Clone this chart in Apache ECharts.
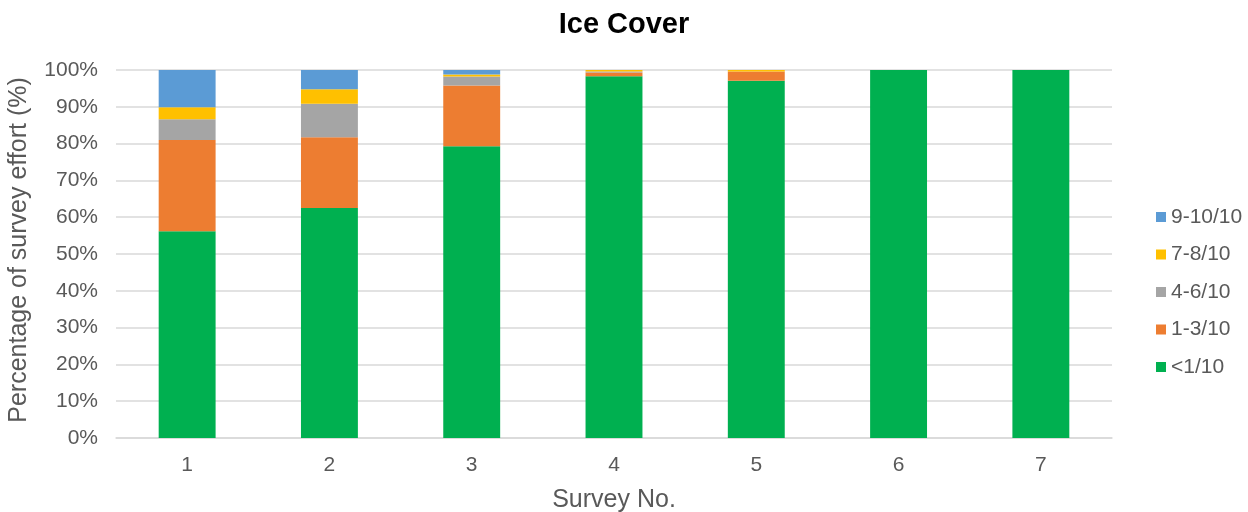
<!DOCTYPE html>
<html>
<head>
<meta charset="utf-8">
<script src="https://cdn.jsdelivr.net/npm/echarts@6/dist/echarts.min.js"></script>
<style>
  html, body { margin: 0; padding: 0; background: #fff; }
  #chart { width: 1248px; height: 512px; }
</style>
</head>
<body>
<div id="chart"></div>
<script>
// Survey numbers along the x axis
const surveys = ['1', '2', '3', '4', '5', '6', '7'];

// Share of survey effort (%) in each ice-cover class
const lt1 = [56.2, 62.5, 79.3, 98.3, 97.1, 100, 100];
const c1to3 = [24.8, 19.2, 16.5, 1.0, 2.5, 0, 0];
const c4to6 = [5.6, 9.1, 2.4, 0.3, 0, 0, 0];
const c7to8 = [3.3, 4.0, 0.6, 0.4, 0.4, 0, 0];
const c9to10 = [10.1, 5.2, 1.2, 0, 0, 0, 0];

const seriesNames = ['<1/10', '1-3/10', '4-6/10', '7-8/10', '9-10/10'];
const seriesData = [lt1, c1to3, c4to6, c7to8, c9to10];
const seriesColors = ['#00B050', '#ED7D31', '#A5A5A5', '#FFC000', '#5B9BD5'];

const font = 'Liberation Sans, Arial, sans-serif';
const chart = echarts.init(document.getElementById('chart'));

chart.setOption({
  animation: false,
  title: {
    text: 'Ice Cover',
    left: 'center',
    top: 5,
    textStyle: { fontFamily: font, fontSize: 29, fontWeight: 'bold', color: '#000' }
  },
  legend: {
    orient: 'vertical',
    left: 1151,
    top: 201,
    itemWidth: 10,
    itemHeight: 10,
    itemGap: 15.5,
    icon: 'rect',
    data: seriesNames.slice().reverse(),
    textStyle: { fontFamily: font, fontSize: 21, lineHeight: 22, color: '#595959' }
  },
  grid: { left: 116, right: 136, top: 70, bottom: 74, outerBoundsMode: 'none', containLabel: false },
  xAxis: {
    type: 'category',
    data: surveys,
    name: 'Survey No.',
    nameLocation: 'middle',
    nameGap: 50,
    nameTextStyle: { fontFamily: font, fontSize: 25, color: '#595959' },
    axisLine: { lineStyle: { color: '#D9D9D9', width: 1.5 } },
    axisTick: { show: false },
    axisLabel: { fontFamily: font, fontSize: 21, color: '#595959', margin: 17 }
  },
  yAxis: {
    type: 'value',
    min: 0,
    max: 100,
    interval: 10,
    name: 'Percentage of survey effort (%)',
    nameLocation: 'middle',
    nameGap: 84,
    nameTextStyle: { fontFamily: font, fontSize: 25, color: '#595959', padding: [0, 0, 0, 8] },
    axisLine: { show: false },
    axisTick: { show: false },
    axisLabel: {
      fontFamily: font, fontSize: 21, color: '#595959', margin: 18,
      formatter: v => v + '%'
    },
    splitLine: { lineStyle: { color: '#D9D9D9', width: 1.5 } }
  },
  series: seriesData.map((d, i) => ({
    name: seriesNames[i],
    type: 'bar',
    stack: 'cover',
    barWidth: '40%',
    data: d,
    itemStyle: { color: seriesColors[i] }
  }))
});
</script>
</body>
</html>
